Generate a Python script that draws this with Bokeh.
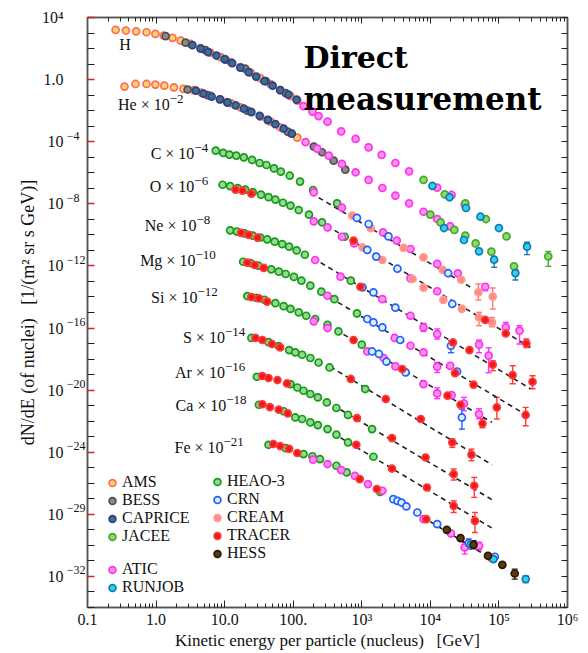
from bokeh.plotting import figure
from bokeh.models import (Range1d, FixedTicker, LogAxis, Legend, LegendItem, Label,
                          ColumnDataSource, Whisker, TeeHead)
from bokeh.embed import file_html
from bokeh.resources import INLINE

# All values are log10: E = kinetic energy per nucleus [GeV], F = scaled dN/dE
# ---------------- AMS (H, He) ----------------
ams_logE = [-0.59, -0.44, -0.29, -0.14, -0.01, 0.11, 0.24, 0.36, 0.50, 0.65, 0.79, 0.94, 1.09, 1.23, 1.38, 1.52, 1.67, 1.81, 1.96, 2.06,
            -0.46, -0.30, -0.14, -0.01, 0.12, 0.26, 0.40, 0.55, 0.66, 0.79, 0.94, 1.09, 1.23, 1.38, 1.52, 1.67, 1.81, 1.96, 2.06]
ams_logF = [3.20, 3.16, 3.11, 3.05, 2.95, 2.84, 2.69, 2.51, 2.30, 2.03, 1.74, 1.45, 1.13, 0.81, 0.45, 0.10, -0.29, -0.68, -1.06, -1.35,
            -0.45, -0.28, -0.28, -0.32, -0.39, -0.50, -0.60, -0.68, -0.84, -1.03, -1.27, -1.51, -1.79, -2.06, -2.38, -2.71, -3.07, -3.45, -3.74]
# ---------------- BESS (H, He) ----------------
bess_logE = [0.14, 0.43, 0.72, 1.01, 1.30, 1.60, 1.89,
             0.46, 0.75, 1.04, 1.33, 1.63, 1.92, 2.30, 2.42, 2.59, 2.76]
bess_logF = [2.80, 2.38, 1.90, 1.29, 0.71, -0.10, -0.87,
             -0.64, -1.00, -1.48, -2.00, -2.61, -3.35, -4.32, -4.68, -5.22, -5.80]
# ---------------- CAPRICE (H, He) ----------------
caprice_logE = [0.53, 0.65, 0.76, 0.88, 1.00, 1.11, 1.23, 1.35, 1.46, 1.58, 1.70, 1.81, 1.93, 2.05,
                0.58, 0.69, 0.81, 0.93, 1.04, 1.16, 1.28, 1.39, 1.51, 1.63, 1.74, 1.86, 1.98]
caprice_logF = [2.22, 2.00, 1.77, 1.55, 1.32, 1.06, 0.77, 0.48, 0.19, -0.10, -0.39, -0.68, -0.97, -1.29,
                -0.71, -0.90, -1.10, -1.27, -1.46, -1.66, -1.87, -2.09, -2.33, -2.59, -2.87, -3.16, -3.48]
# ---------------- JACEE (H, He) ----------------
jacee_logE = [3.90, 4.21, 4.51, 4.81, 5.11, 5.72,
              4.00, 4.15, 4.35, 4.51, 4.66, 4.89, 5.22]
jacee_logF = [-6.46, -7.39, -7.97, -8.98, -10.10, -11.39,
              -8.70, -9.20, -9.68, -10.05, -10.55, -11.08, -12.03]
# ---------------- RUNJOB (H, He, Fe) ----------------
runjob_logE = [4.03, 4.28, 4.52, 4.73, 5.00, 5.41,
               4.20, 4.49, 4.71, 4.93, 5.24,
               4.59, 4.92, 5.39]
runjob_logF = [-6.85, -7.58, -8.27, -8.83, -9.56, -10.76,
               -9.56, -10.33, -11.06, -11.60, -12.46,
               -29.93, -30.88, -32.17]
# ---------------- ATIC ----------------
atic_logE = [2.15, 2.28, 2.37, 2.50, 2.70, 2.91, 3.10, 3.29, 3.49, 3.69, 4.10, 4.31, 4.50,            # H
             2.18, 2.35, 2.52, 2.71, 2.91, 3.10, 3.30, 3.49, 3.69, 3.90, 4.10, 4.29,                  # He
             2.30, 2.71, 3.31, 3.51, 3.71, 4.10, 4.40, 4.80,                                          # C
             2.30, 2.50, 2.71, 2.89, 3.71, 4.10, 5.10, 5.30,                                          # O
             2.32, 2.69, 3.30, 3.71, 3.90, 4.10, 4.71, 4.85,                                          # Ne
             2.50, 3.48, 3.71, 3.90, 4.10, 4.29,                                                      # Mg
             2.30, 2.50, 3.08, 3.32, 3.49, 3.90, 4.10, 4.31, 4.49, 4.71,                              # Si
             2.29, 2.50, 2.70, 2.90, 3.09, 3.30, 3.90, 4.30, 4.50, 4.71]                              # Fe
atic_logF = [-1.71, -2.06, -2.35, -2.71, -3.33, -3.82, -4.36, -4.85, -5.37, -5.91, -6.96, -7.43, -8.05,
             -4.03, -4.45, -4.90, -5.43, -5.97, -6.46, -6.98, -7.47, -7.97, -8.51, -8.98, -9.45,
             -7.26, -8.25, -9.84, -10.37, -10.91, -11.87, -12.48, -13.34,
             -9.13, -9.52, -10.12, -10.55, -12.80, -13.63, -15.96, -16.17,
             -11.62, -12.69, -14.14, -15.21, -15.96, -16.39, -17.07, -17.78,
             -13.92, -16.64, -17.14, -17.57, -18.49, -18.43,
             -15.57, -16.00, -17.51, -17.93, -18.47, -19.61, -20.21, -20.32, -20.86, -21.54,
             -24.48, -24.76, -25.15, -25.52, -26.05, -26.48, -28.31, -29.23, -30.13, -30.03]
# ---------------- HEAO-3 ----------------
heao_logE = [0.87, 0.98, 1.07, 1.17, 1.28, 1.40, 1.51, 1.61, 1.72, 1.82, 1.95, 2.10, 2.29, 2.64,   # C
             0.97, 1.08, 1.19, 1.30, 1.41, 1.53, 1.64, 1.74, 1.85, 1.96, 2.08, 2.23, 2.42, 2.75,   # O
             1.08, 1.18, 1.29, 1.41, 1.52, 1.62, 1.73, 1.84, 1.94, 2.05, 2.17, 2.84,               # Ne
             1.27, 1.38, 1.49, 1.68, 1.79, 1.89, 2.01, 2.12, 2.25, 2.41, 2.60, 2.93,               # Mg
             1.33, 1.46, 1.58, 1.74, 1.86, 1.96, 2.08, 2.19, 2.32, 2.50, 2.66, 3.00,               # Si
             1.39, 1.64, 1.79, 1.94, 2.03, 2.13, 2.25, 2.37, 2.53, 3.05,                           # S
             1.47, 1.96, 2.06, 2.15, 2.25, 2.36, 2.49, 2.63, 2.80, 3.15,                           # Ar
             1.50, 1.86, 2.03, 2.13, 2.25, 2.36, 2.50, 2.63, 2.80, 3.17,                           # Ca
             1.64, 1.89, 2.15, 2.28, 2.39, 2.63, 2.78, 3.27]                                       # Fe
heao_logF = [-4.57, -4.72, -4.83, -4.90, -5.01, -5.17, -5.37, -5.50, -5.72, -5.93, -6.19, -6.57, -7.11, -7.97,
             -6.77, -6.86, -6.99, -7.09, -7.25, -7.41, -7.57, -7.73, -7.93, -8.12, -8.40, -8.70, -9.19, -10.12,
             -9.71, -9.79, -9.91, -10.05, -10.17, -10.29, -10.44, -10.60, -10.76, -11.00, -11.28, -12.95,
             -11.73, -11.82, -11.98, -12.22, -12.37, -12.52, -12.71, -12.95, -13.27, -13.66, -14.14, -15.06,
             -13.94, -14.05, -14.18, -14.40, -14.59, -14.77, -14.99, -15.21, -15.42, -15.79, -16.22, -17.07,
             -16.64, -16.91, -17.17, -17.42, -17.57, -17.72, -17.93, -18.22, -18.54, -19.93,
             -19.14, -19.61, -19.83, -20.04, -20.25, -20.47, -20.79, -21.15, -21.60, -22.51,
             -20.94, -21.36, -21.76, -21.86, -22.08, -22.25, -22.51, -22.87, -23.37, -24.29,
             -23.52, -23.74, -24.12, -24.26, -24.44, -24.87, -25.30, -26.55]
# ---------------- CRN ----------------
crn_logE = [2.93, 3.10, 3.39, 4.26,
            3.08, 3.21, 3.52, 4.32,
            3.01, 3.17, 3.49, 4.30,
            3.08, 3.17, 3.30, 3.56, 4.39,
            3.15, 3.25, 3.36, 3.64, 4.46,
            3.46, 3.52, 3.58, 3.65, 3.81, 4.10, 4.56, 4.94]
crn_logF = [-8.91, -9.30, -10.10, -12.47,
            -10.97, -11.40, -12.18, -14.45,
            -13.38, -13.70, -14.69, -17.14,
            -15.42, -15.64, -15.96, -16.77, -18.80,
            -17.51, -17.67, -18.17, -18.86, -21.76,
            -27.02, -27.13, -27.24, -27.49, -27.88, -28.63, -29.85, -30.73]
# ---------------- CREAM (C, O) ----------------
cream_logE = [2.86, 3.13, 3.61, 3.90, 4.18, 4.45, 4.70, 4.91,
              3.01, 3.30, 3.74, 3.90, 4.19, 4.46, 4.71, 4.90]
cream_logF = [-8.76, -9.57, -10.84, -11.45, -12.26, -12.89, -13.70, -13.98,
              -10.81, -11.62, -12.84, -13.40, -14.19, -14.77, -15.32, -15.64]
# ---------------- TRACER ----------------
tracer_logE = [1.16, 1.26, 1.39, 2.88, 4.80, 5.10, 5.40,                  # O
               1.24, 1.35, 1.48, 2.98, 4.33, 4.57, 4.91, 5.20, 5.49,      # Ne
               1.33, 1.44, 1.57, 4.36, 4.63, 4.97, 5.39,                  # Mg
               1.39, 1.50, 1.62, 2.88, 3.59, 4.25, 4.44, 4.76,            # Si
               1.45, 1.55, 1.69, 1.81, 2.84, 3.35, 3.86, 4.32, 4.60,      # S
               1.55, 1.64, 1.77, 1.91, 2.93, 3.44, 3.93, 4.34, 4.64,      # Ar
               1.55, 1.66, 1.79, 1.92, 2.92, 3.44, 3.95, 4.34, 4.65,      # Ca
               1.71, 1.81, 1.94, 2.06, 2.97, 3.22, 3.94, 4.89]            # Fe
tracer_logF = [-7.09, -7.15, -7.35, -10.37, -15.48, -16.35, -16.99,
               -9.87, -10.00, -10.18, -13.34, -16.93, -17.42, -18.36, -19.03, -19.46,
               -11.79, -11.94, -12.13, -18.90, -19.65, -21.11, -21.60,
               -14.01, -14.09, -14.30, -16.77, -18.64, -20.36, -20.94, -22.15,
               -16.64, -16.77, -17.03, -17.25, -19.28, -20.57, -21.86, -23.37, -24.16,
               -19.09, -19.22, -19.35, -19.57, -21.80, -23.09, -24.34, -25.41, -26.16,
               -20.91, -21.09, -21.26, -21.50, -23.52, -25.05, -26.27, -27.45, -28.42,
               -23.47, -23.60, -23.78, -24.05, -25.73, -26.37, -28.31, -30.80]
# ---------------- HESS (Fe) ----------------
hess_logE = [4.24, 4.44, 4.63, 4.84, 5.05, 5.23]
hess_logF = [-29.00, -29.53, -29.96, -30.67, -31.25, -31.81]

# ---------------- error bars (log10 E, log10 lower, log10 upper) ----------------
atic_err_E = [4.80, 5.10, 5.30, 3.90, 4.10, 4.71, 4.85, 4.10, 4.10, 4.49, 4.71, 4.50, 4.71]
atic_err_lo = [-13.60, -16.28, -17.03, -16.22, -16.71, -17.59, -18.88, -18.86, -20.55, -21.33, -21.84, -30.56, -30.28]
atic_err_hi = [-13.16, -15.64, -15.85, -15.70, -16.06, -16.77, -17.27, -18.21, -19.85, -20.47, -21.20, -29.81, -29.81]
cream_err_E = [4.70, 4.91, 4.71, 4.90]
cream_err_lo = [-14.20, -14.78, -15.85, -15.92]
cream_err_hi = [-13.16, -13.42, -14.99, -15.32]
tracer_err_E = [5.40, 4.91, 5.20, 5.49, 4.97, 5.39, 4.76, 4.32, 4.60, 4.34, 4.64, 4.34, 4.65]
tracer_err_lo = [-17.25, -18.75, -19.59, -19.91, -21.86, -22.29, -22.42, -23.69, -24.55, -25.79, -26.91, -27.88, -29.17]
tracer_err_hi = [-16.71, -18.11, -18.43, -19.07, -20.47, -21.11, -21.84, -23.15, -23.80, -25.08, -25.62, -27.13, -27.88]
crn_err_E = [4.30, 4.46, 4.56]
crn_err_lo = [-17.59, -22.51, -30.24]
crn_err_hi = [-16.82, -21.22, -29.58]
jacee_err_E = [5.72]
jacee_err_lo = [-12.03]
jacee_err_hi = [-11.06]
runjob_err_E = [5.41, 4.93, 5.24, 5.39]
runjob_err_lo = [-11.27, -12.09, -12.91, -32.39]
runjob_err_hi = [-10.48, -11.40, -12.24, -31.96]
hess_err_E = [4.63, 5.23]
hess_err_lo = [-30.22, -32.17]
hess_err_hi = [-29.70, -31.53]

# ---------------- power-law fits (dashed) ----------------
fit_species = ["C", "O", "Ne", "Mg", "Si", "S", "Ar", "Ca", "Fe"]
fit_logE0 = [2.37, 2.49, 2.40, 2.54, 2.62, 2.54, 2.69, 2.69, 4.00]
fit_logF0 = [-7.60, -9.41, -11.79, -14.05, -16.11, -18.49, -21.26, -23.07, -28.48]
fit_logE1 = [4.61, 5.46, 5.46, 5.46, 4.90, 4.90, 4.90, 4.90, 5.11]
fit_logF1 = [-13.43, -17.25, -19.91, -21.76, -22.08, -24.81, -27.06, -28.89, -31.44]

# ---------------- species labels (base text + exponent) ----------------
species_base = ["H", "He × 10", "C × 10", "O × 10", "Ne × 10", "Mg × 10",
                "Si × 10", "S × 10", "Ar × 10", "Ca × 10", "Fe × 10"]
species_exp = ["", "−2", "−4", "−6", "−8", "−10", "−12", "−14", "−16", "−18", "−21"]
species_logE = [-0.37, 0.40, 0.76, 0.76, 0.79, 0.87, 0.90, 1.30, 1.30, 1.32, 1.28]
species_logF = [2.29, -1.61, -4.77, -6.89, -9.41, -11.66, -14.05, -16.62, -18.88, -21.01, -23.71]

# ---------------- axis ticks ----------------
x_major = [0.1, 1.0, 10.0, 100.0, 1e3, 1e4, 1e5, 1e6]
x_labels = ["0.1", "1.0", "10.0", "100.", "10³", "10⁴", "10⁵", "10⁶"]
y_major_exp = [4, 0, -4, -8, -12, -16, -20, -24, -28, -32]
y_label_base = ["10⁴", "1.0", "10", "10", "10", "10", "10", "10", "10", "10"]
y_label_exp = ["", "", "−4", "−8", "−12", "−16", "−20", "−24", "−29", "−32"]

NB3 = "\u00a0\u00a0\u00a0"
x_title = "Kinetic energy per particle (nucleus)" + NB3 + "[GeV]"
y_title = "dN/dE (of nuclei)" + NB3 + "[1/(m² sr s GeV)]"


def pw(a):
    return [10.0 ** v for v in a]


def text_w(s, size):
    # approximate advance width of digits / minus sign in a Times-like font
    return sum((0.564 if ch == "−" else 0.5) for ch in s) * size


SERIF = "Liberation Serif"
X_MIN, X_MAX = 0.1, 1e6
Y_MIN, Y_MAX = 1e-34, 1e4

p = figure(width=588, height=653, x_axis_type="log", y_axis_type="log",
           x_range=Range1d(X_MIN, X_MAX), y_range=Range1d(Y_MIN, Y_MAX),
           output_backend="svg", toolbar_location=None,
           min_border_left=87, min_border_right=21, min_border_top=17, min_border_bottom=46)
p.xgrid.visible = False
p.ygrid.visible = False
p.outline_line_color = "#555555"
p.outline_line_width = 1.5
p.background_fill_color = "white"

x_minor = [m * 10.0 ** k for k in range(-1, 6) for m in range(2, 10)]
y_major = [10.0 ** e for e in y_major_exp]
y_minor = [10.0 ** k for k in range(-34, 5) if k not in y_major_exp]
y_all = [10.0 ** k for k in range(-34, 5)]

# ---- bottom axis (ticks + labels) ----
ax = p.xaxis[0]
ax.ticker = FixedTicker(ticks=x_major, minor_ticks=x_minor)
ax.major_label_overrides = {t: s for t, s in zip(x_major, x_labels)}
ax.axis_label = x_title
ax.major_label_text_font = SERIF
ax.major_label_text_font_size = "16px"
ax.major_label_text_color = "#111111"
ax.major_label_standoff = 3
ax.axis_label_standoff = 0
ax.axis_label_text_font_size = "17px"
ax.major_tick_line_color = "#222222"

# ---- left axis: tick marks only (labels are drawn by two stacked axes) ----
ay = p.yaxis[0]
ay.ticker = FixedTicker(ticks=y_major, minor_ticks=y_minor)
ay.major_label_text_font_size = "1px"
ay.major_label_text_alpha = 0
ay.major_label_standoff = 0
ay.major_tick_line_color = "#e02020"
ay.major_tick_line_width = 1.5

for a in (ax, ay):
    a.axis_label_text_font = SERIF
    a.axis_label_text_font_style = "normal"
    a.axis_label_text_color = "#111111"
    a.axis_line_color = "#555555"
    a.axis_line_width = 1.5
    a.major_tick_in = 7
    a.major_tick_out = 0
    a.minor_tick_in = 4
    a.minor_tick_out = 0
    a.minor_tick_line_color = "#222222"
ay.minor_tick_in = 7

# exponent labels: raised ~6 px above their decade
EXP_RAISE = 0.39
exp_ticks, exp_over = [], {}
for e, s in zip(y_major_exp, y_label_exp):
    if s:
        t = 10.0 ** (e + EXP_RAISE)
        exp_ticks.append(t)
        exp_over[t] = s if len(s) > 2 else s + "\u2007"
y_exp_axis = LogAxis(ticker=FixedTicker(ticks=exp_ticks, minor_ticks=[]),
                     major_label_overrides=exp_over)
y_base_axis = LogAxis(ticker=FixedTicker(ticks=y_major, minor_ticks=[]),
                      major_label_overrides={t: s for t, s in zip(y_major, y_label_base)})
y_exp_axis.major_label_text_font_size = "12px"
y_exp_axis.major_label_standoff = 2
y_base_axis.major_label_text_font_size = "16px"
y_base_axis.major_label_standoff = 0
y_base_axis.axis_label = y_title
y_base_axis.axis_label_standoff = 1
y_base_axis.axis_label_text_font = SERIF
y_base_axis.axis_label_text_font_size = "18px"
y_base_axis.axis_label_text_font_style = "normal"
y_base_axis.axis_label_text_color = "#111111"
for a in (y_exp_axis, y_base_axis):
    a.major_label_text_font = SERIF
    a.major_label_text_color = "#111111"
    a.axis_line_color = None
    a.major_tick_line_color = None
    a.minor_tick_line_color = None
    a.major_tick_in = 0
    a.major_tick_out = 0
    a.minor_tick_in = 0
    a.minor_tick_out = 0
p.add_layout(y_exp_axis, "left")
p.add_layout(y_base_axis, "left")

# ---- mirrored top / right tick axes ----
top = LogAxis(ticker=FixedTicker(ticks=x_major, minor_ticks=x_minor))
right = LogAxis(ticker=FixedTicker(ticks=y_all, minor_ticks=[]))
for a in (top, right):
    a.major_label_text_font_size = "1px"
    a.major_label_text_alpha = 0
    a.major_label_standoff = 0
    a.axis_line_color = "#555555"
    a.axis_line_width = 1.5
    a.major_tick_in = 6
    a.major_tick_out = 0
    a.minor_tick_in = 4
    a.minor_tick_out = 0
    a.major_tick_line_color = "#222222"
    a.minor_tick_line_color = "#222222"
p.add_layout(top, "above")
p.add_layout(right, "right")

# dashed fits
p.segment(x0=pw(fit_logE0), y0=pw(fit_logF0), x1=pw(fit_logE1), y1=pw(fit_logF1),
          line_color="#222222", line_width=1.6, line_dash="5 4")

# experiments: name, E, F, fill, line
experiments = [
    ("AMS", ams_logE, ams_logF, "#ffd66e", "#ff6a5a"),
    ("BESS", bess_logE, bess_logF, "#8a8a8a", "#4f4f4f"),
    ("CAPRICE", caprice_logE, caprice_logF, "#3f727a", "#2d3f92"),
    ("HEAO-3", heao_logE, heao_logF, "#93d893", "#179a17"),
    ("ATIC", atic_logE, atic_logF, "#ff9ad8", "#ff30ff"),
    ("CREAM", cream_logE, cream_logF, "#ff8c84", "#ff9a92"),
    ("CRN", crn_logE, crn_logF, "#d4f4ff", "#2a5cff"),
    ("TRACER", tracer_logE, tracer_logF, "#ee1a1a", "#ff3a3a"),
    ("JACEE", jacee_logE, jacee_logF, "#8fdc5f", "#45a836"),
    ("RUNJOB", runjob_logE, runjob_logF, "#28d4f0", "#1a78b0"),
    ("HESS", hess_logE, hess_logF, "#5a3a10", "#2a1805"),
]
errors = {
    "ATIC": (atic_err_E, atic_err_lo, atic_err_hi),
    "CREAM": (cream_err_E, cream_err_lo, cream_err_hi),
    "TRACER": (tracer_err_E, tracer_err_lo, tracer_err_hi),
    "CRN": (crn_err_E, crn_err_lo, crn_err_hi),
    "JACEE": (jacee_err_E, jacee_err_lo, jacee_err_hi),
    "RUNJOB": (runjob_err_E, runjob_err_lo, runjob_err_hi),
    "HESS": (hess_err_E, hess_err_lo, hess_err_hi),
}

renderers = {}
for name, lE, lF, fc, lc in experiments:
    if name in errors:
        eE, elo, ehi = errors[name]
        src = ColumnDataSource(dict(x=pw(eE), lo=pw(elo), hi=pw(ehi)))
        wc = lc if name != "CREAM" else "#ff7a72"
        w = Whisker(source=src, base="x", lower="lo", upper="hi", dimension="height",
                    line_color=wc, line_width=1.4,
                    upper_head=TeeHead(size=6, line_color=wc, line_width=1.4),
                    lower_head=TeeHead(size=6, line_color=wc, line_width=1.4))
        p.add_layout(w)
    r = p.scatter(x=pw(lE), y=pw(lF), marker="circle", size=7, fill_color=fc,
                  line_color=lc, line_width=1.7)
    renderers[name] = r


def make_legend(names, loc):
    leg = Legend(items=[LegendItem(label=n, renderers=[renderers[n]]) for n in names],
                 location=loc, orientation="vertical")
    leg.background_fill_alpha = 0
    leg.border_line_alpha = 0
    leg.label_text_font = SERIF
    leg.label_text_font_size = "16px"
    leg.label_text_color = "#111111"
    leg.glyph_width = 18
    leg.glyph_height = 17
    leg.label_height = 17
    leg.label_standoff = 1
    leg.spacing = 0
    leg.padding = 0
    leg.margin = 0
    return leg


p.add_layout(make_legend(["AMS", "BESS", "CAPRICE", "JACEE"], (16, 62)))
p.add_layout(make_legend(["ATIC", "RUNJOB"], (16, 11)))
p.add_layout(make_legend(["HEAO-3", "CRN", "CREAM", "TRACER", "HESS"], (121, 45)))

SP_FS, SP_EXP_FS = 16, 13
for b, e, le, lf in zip(species_base, species_exp, species_logE, species_logF):
    ew = text_w(e, SP_EXP_FS) if e else 0
    p.add_layout(Label(x=10.0 ** le, y=10.0 ** lf, text=b, text_align="right",
                       text_baseline="middle", x_offset=-ew, text_font=SERIF,
                       text_font_size=f"{SP_FS}px", text_color="#111111"))
    if e:
        p.add_layout(Label(x=10.0 ** le, y=10.0 ** lf, text=e, text_align="right",
                           text_baseline="middle", y_offset=6, text_font=SERIF,
                           text_font_size=f"{SP_EXP_FS}px", text_color="#111111"))

p.add_layout(Label(x=10.0 ** 2.15, y=10.0 ** 1.40, text="Direct", text_align="left",
                   text_baseline="middle", text_font="DejaVu Serif",
                   text_font_size="30px", text_font_style="bold", text_color="black"))
p.add_layout(Label(x=10.0 ** 2.15, y=10.0 ** -1.22, text="measurement", text_align="left",
                   text_baseline="middle", text_font="DejaVu Serif",
                   text_font_size="31px", text_font_style="bold", text_color="black"))

open("out.html", "w").write(file_html(p, INLINE))
